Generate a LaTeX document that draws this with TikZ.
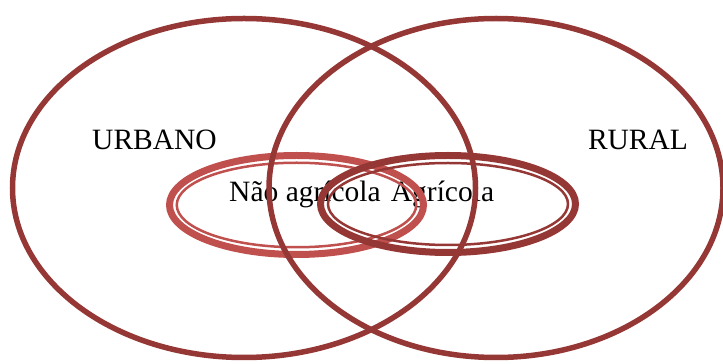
\documentclass[tikz,border=0pt]{standalone}
\usepackage{fontspec}
\setmainfont{Liberation Serif}
\usepackage{xcolor}
\usetikzlibrary{
    positioning,
    shapes.geometric,
}
\definecolor{setdark}{RGB}{149,55,53}
\definecolor{setlight}{RGB}{192,80,77}
\tikzset{
    % Set styles
    big set/.style={ellipse, draw=setdark, line width=5.5pt, minimum width=463pt,
                    minimum height=339pt, inner sep=0pt},
    ring outer/.style={ellipse, line width=7pt, inner sep=0pt},
    ring inner/.style={ellipse, line width=2.5pt, inner sep=0pt},
    % Label styles
    set label/.style={font=\fontsize{29.5}{35}\selectfont, inner sep=0pt, anchor=base},
}

\begin{document}
\begin{tikzpicture}[x=1pt, y=1pt]
    \useasboundingbox (0,0) rectangle (723,364);

    % Labels
    \node[set label] (urbanolbl) at (154.5, 214) {URBANO};
    \node[set label] (rurallbl) at (638, 214) {RURAL};
    \node[set label] (naolbl) at (305, 162) {Não agrícola};
    \node[set label] (agrlbl) at (442.5, 162) {Agrícola};

    % Small sets (thick-thin rings)
    \node[ring outer, draw=setlight, minimum width=254pt, minimum height=99pt] (nao) at (296.5, 159) {};
    \node[ring inner, draw=setlight, minimum width=239.5pt, minimum height=84.5pt] at (nao.center) {};
    \node[ring outer, draw=setdark, minimum width=255pt, minimum height=97pt] (agr) at (448, 160) {};
    \node[ring inner, draw=setdark, minimum width=240pt, minimum height=82pt] at (agr.center) {};

    % Big sets
    \node[big set] (urbano) at (244, 176) {};
    \node[big set, minimum width=454pt] (rural) at (496, 176) {};
\end{tikzpicture}
\end{document}
